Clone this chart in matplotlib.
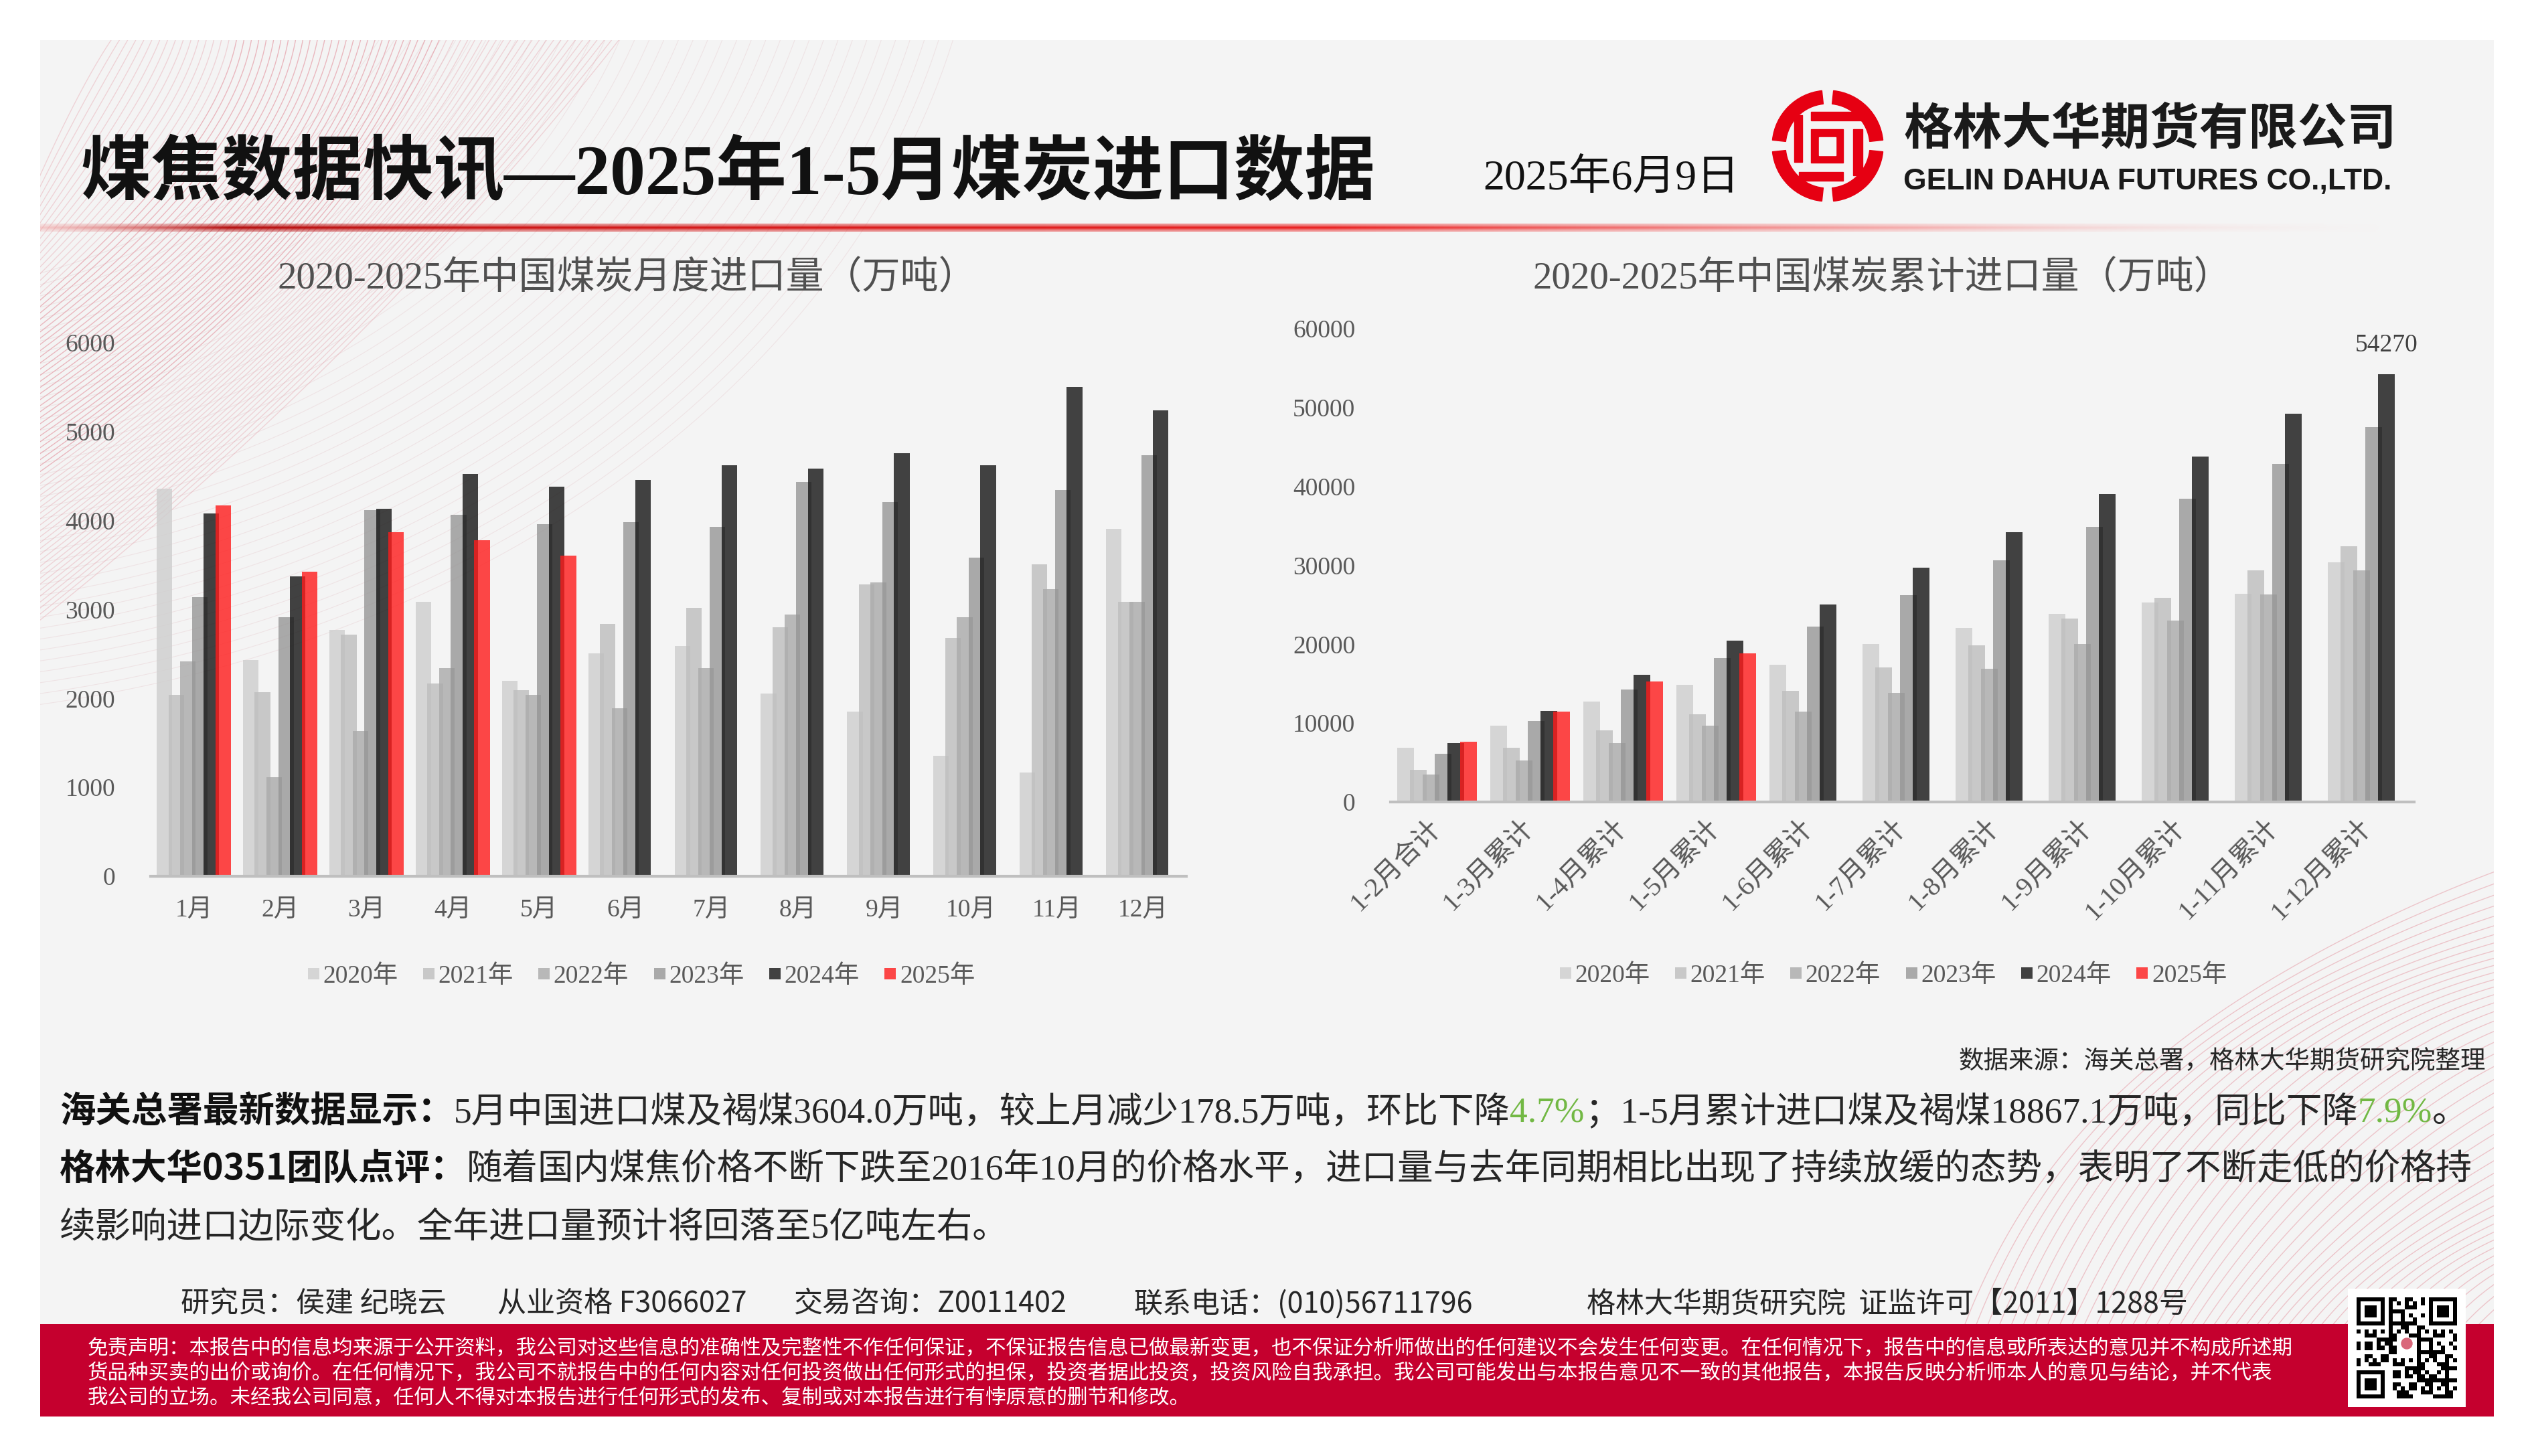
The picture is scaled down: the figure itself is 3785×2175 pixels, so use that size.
import numpy as np
import matplotlib
matplotlib.use("Agg")
import matplotlib.pyplot as plt
from matplotlib.patches import Rectangle, Wedge, Circle

W, H = 3785, 2175

# === DATOS: importación mensual (万吨) ===
months = ["1月", "2月", "3月", "4月", "5月", "6月", "7月", "8月", "9月", "10月", "11月", "12月"]
years = ["2020年", "2021年", "2022年", "2023年", "2024年", "2025年"]
m2020 = [4360, 2434, 2772, 3090, 2196, 2508, 2587, 2058, 1852, 1354, 1169, 3910]
m2021 = [2037, 2074, 2720, 2170, 2095, 2836, 3016, 2799, 3286, 2683, 3508, 3090]
m2022 = [2413, 1116, 1630, 2344, 2042, 1889, 2344, 2942, 3302, 2910, 3228, 3090]
m2023 = [3138, 2910, 4116, 4069, 3958, 3979, 3926, 4434, 4206, 3587, 4344, 4735]
m2024 = [4079, 3376, 4132, 4524, 4381, 4455, 4624, 4582, 4757, 4624, 5503, 5238]
m2025 = [4170, 3423, 3868, 3782, 3604]

# === DATOS: importación acumulada (万吨) ===
periods = ["1-2月合计", "1-3月累计", "1-4月累计", "1-5月累计", "1-6月累计", "1-7月累计",
           "1-8月累计", "1-9月累计", "1-10月累计", "1-11月累计", "1-12月累计"]
c2020 = [6850, 9640, 12740, 14880, 17380, 20060, 22080, 23870, 25300, 26430, 30420]
c2021 = [4100, 6850, 9050, 11130, 14050, 17020, 19820, 23270, 25890, 29400, 32380]
c2022 = [3510, 5240, 7500, 9640, 11490, 13870, 16900, 20060, 23040, 26310, 29400]
c2023 = [6070, 10240, 14290, 18270, 22200, 26190, 30650, 34880, 38450, 42860, 47560]
c2024 = [7500, 11550, 16130, 20480, 25060, 29700, 34230, 39050, 43750, 49230, 54270]
c2025 = [7680, 11490, 15300, 18867]

monthly = [m2020, m2021, m2022, m2023, m2024, m2025]
cumul = [c2020, c2021, c2022, c2023, c2024, c2025]
colors = ["#cecece", "#bebebe", "#aaaaaa", "#969696", "#141414", "#ff1b1b"]

SERIF = ["Liberation Serif", "Noto Sans CJK SC"]
SANS = ["Noto Sans CJK SC", "DejaVu Sans"]
plt.rcParams["font.family"] = SERIF

fig = plt.figure(figsize=(W / 100, H / 100), dpi=100)
fig.patch.set_facecolor("white")

# === FONDO (coordenadas en píxeles) ===
bg = fig.add_axes([0, 0, 1, 1])
bg.set_autoscale_on(False)
bg.set_xlim(0, W)
bg.set_ylim(H, 0)
bg.axis("off")
bg.set_zorder(-1)

panel = Rectangle((60, 60), 3665, 2056, facecolor="#f4f4f4", edgecolor="none", zorder=0)
bg.add_patch(panel)

# líneas decorativas (arriba a la izquierda)
t = np.linspace(0, 1, 300)[:, None]
for i in range(70):
    s = i / 69
    p0 = np.array([180 + 760 * s, 40])
    p1 = np.array([120 + 520 * s + 120 * np.sin(4 * s), 120 + 420 * s])
    p2 = np.array([30, 330 + 620 * s])
    pts = (1 - t) ** 2 * p0 + 2 * (1 - t) * t * p1 + t ** 2 * p2
    ln, = bg.plot(pts[:, 0], pts[:, 1], color="#e07c8a", lw=1.0,
                  alpha=0.5 if 15 < i < 45 else 0.28, zorder=0.5)
    ln.set_clip_path(panel)
for i in range(40):
    r = 700 + i * 16
    th = np.linspace(0, np.pi / 2, 300)
    x = -250 + r * 1.3 * np.cos(th)
    y = -250 + r * np.sin(th)
    ln, = bg.plot(x, y, color="#d9a0a8", lw=0.8, alpha=0.2, zorder=0.5)
    ln.set_clip_path(panel)
# líneas decorativas (abajo a la derecha)
th = np.linspace(0, np.pi / 2, 300)
for i in range(45):
    r = 560 + i * 14
    x = 4150 - r * 1.1 * np.cos(th)
    y = 2400 - r * np.sin(th) + 20 * np.sin(th * 5 + i * 0.2)
    ln, = bg.plot(x, y, color="#e07c8a", lw=1.0, alpha=0.4, zorder=0.5)
    ln.set_clip_path(Rectangle((60, 60), 3665, 1918, transform=bg.transData))

# línea roja degradada bajo el título
xs = np.linspace(0, 1, 800)
stops = np.array([
    [0.00, 0.95, 0.60, 0.60, 0.5],
    [0.08, 0.70, 0.02, 0.02, 1.0],
    [0.20, 0.80, 0.03, 0.03, 1.0],
    [0.55, 0.92, 0.08, 0.08, 1.0],
    [0.80, 0.96, 0.55, 0.55, 0.7],
    [1.00, 0.98, 0.90, 0.90, 0.0],
])
grad = np.zeros((3, len(xs), 4))
for ch in range(4):
    grad[:, :, ch] = np.interp(xs, stops[:, 0], stops[:, ch + 1])
grad[0, :, 3] *= 0.45
grad[2, :, 3] *= 0.45
bg.imshow(grad, extent=(60, 3560, 346, 334), aspect="auto", interpolation="bilinear", zorder=1)

# logo
red = "#e60012"
cx, cy = 2730, 218
for a in (0, 90, 180, 270):
    bg.add_patch(Wedge((cx, cy), 83, a + 6, a + 84, width=20, color=red, zorder=2))
def zr(x0, y0, x1, y1, col=red):
    bg.add_patch(Rectangle((2620 + x0 / 3, 110 + y0 / 3), (x1 - x0) / 3, (y1 - y0) / 3,
                           color=col, zorder=3))
zr(180, 185, 215, 395)
zr(255, 170, 525, 210)
zr(255, 250, 400, 400)
zr(290, 285, 365, 365, "#f4f4f4")
zr(445, 250, 485, 455)
zr(200, 440, 400, 480)

# banda roja inferior
bg.add_patch(Rectangle((60, 1978), 3665, 138, facecolor="#c5002e", edgecolor="none", zorder=1))

# código QR decorativo
bg.add_patch(Rectangle((3507, 1925), 176, 177, facecolor="white", edgecolor="none", zorder=2))
n = 25
ii, jj = np.mgrid[0:n, 0:n]
qr = (((ii * 3 + jj * 5 + (ii * jj) % 7) % 4) < 2).astype(float)
for r0, c0 in [(0, 0), (0, n - 7), (n - 7, 0)]:
    qr[max(r0 - 1, 0):r0 + 8, max(c0 - 1, 0):c0 + 8] = 0
    qr[r0:r0 + 7, c0:c0 + 7] = 1
    qr[r0 + 1:r0 + 6, c0 + 1:c0 + 6] = 0
    qr[r0 + 2:r0 + 5, c0 + 2:c0 + 5] = 1
qr[10:15, 10:15] = 0
bg.imshow(qr, cmap="gray_r", extent=(3520, 3670, 2089, 1938), aspect="auto",
          interpolation="nearest", zorder=3)
bg.add_patch(Circle((3595, 2007), 8, color="#d9677a", zorder=4))

# === TEXTOS DE CABECERA ===
bg.text(120, 262, "煤焦数据快讯—2025年1-5月煤炭进口数据", fontsize=76, fontweight="bold",
        color="#111111", va="center", ha="left", family=SERIF)
bg.text(2215, 268, "2025年6月9日", fontsize=46, color="#111111", va="center", ha="left", family=SERIF)
bg.text(2843, 193, "格林大华期货有限公司", fontsize=53, fontweight="bold", color="#1a1a1a",
        va="center", ha="left", family=SANS)
bg.text(2843, 272, "GELIN DAHUA FUTURES CO.,LTD.", fontsize=32, fontweight="bold", color="#1a1a1a",
        va="center", ha="left", family=["Liberation Sans", "DejaVu Sans"])

bg.text(937, 416, "2020-2025年中国煤炭月度进口量（万吨）", fontsize=41,
        color="#505050", ha="center", va="center", family=SERIF)
bg.text(2812, 416, "2020-2025年中国煤炭累计进口量（万吨）", fontsize=41,
        color="#505050", ha="center", va="center", family=SERIF)

# === GRÁFICAS ===
def px_axes(x0, y0, x1, y1):
    return fig.add_axes([x0 / W, 1 - y1 / H, (x1 - x0) / W, (y1 - y0) / H])

ax1 = px_axes(225, 512, 1772, 1309)
ax2 = px_axes(2077, 491, 3606, 1198)

step, bw = 0.136, 0.18
for ax, data in ((ax1, monthly), (ax2, cumul)):
    ax.set_facecolor("none")
    for k, (vals, col) in enumerate(zip(data, colors)):
        x = np.arange(len(vals)) + (k - 2.5) * step
        ax.bar(x, vals, bw, color=col, alpha=0.8, label=years[k], zorder=2 + k, linewidth=0)
    for s in ("left", "right", "top"):
        ax.spines[s].set_visible(False)
    ax.spines["bottom"].set_color("#bfbfbf")
    ax.spines["bottom"].set_linewidth(3)
    ax.spines["bottom"].set_zorder(10)
    ax.tick_params(axis="both", length=0, labelsize=27, labelcolor="#595959")
    ax.tick_params(axis="y", pad=38)

ax1.set_xlim(-0.5, 11.5)
ax1.set_ylim(0, 6000)
ax1.set_yticks(range(0, 6001, 1000))
ax1.set_xticks(range(12))
ax1.set_xticklabels(months)
ax1.tick_params(axis="x", pad=25)

ax2.set_xlim(-0.5, 10.5)
ax2.set_ylim(0, 60000)
ax2.set_yticks(range(0, 60001, 10000))
ax2.set_xticks(range(11))
ax2.set_xticklabels(periods)
ax2.tick_params(axis="x", pad=24, labelsize=29)
plt.setp(ax2.get_xticklabels(), rotation=45, ha="right", va="center", rotation_mode="anchor")

ax2.annotate(str(c2024[-1]), xy=(10 + 1.5 * step, c2024[-1]), xytext=(0, 31),
             textcoords="offset points", ha="center", va="center", fontsize=27, color="#404040")

for ax, cxp, cyp in ((ax1, 958, 1459), (ax2, 2828, 1458)):
    ax.legend(loc="center", bbox_to_anchor=(cxp / W, 1 - cyp / H), bbox_transform=fig.transFigure,
              ncol=6, frameon=False, fontsize=27, handlelength=0.45, handleheight=0.32,
              handletextpad=0.15, columnspacing=1.0, labelcolor="#595959")

# === TEXTO DE ANÁLISIS ===
bg.text(3713, 1586, "数据来源：海关总署，格林大华期货研究院整理", fontsize=27, color="#262626",
        ha="right", va="center", family=SERIF)

renderer = fig.canvas.get_renderer()
green = "#72b844"
B = dict(family=SANS, fontweight="bold", color="#111111")
N = dict(family=SERIF, color="#262626")
G = dict(family=SERIF, color=green)

def chain(parts, x, y, size=38.5):
    for txt, kw in parts:
        tt = bg.text(x, y, txt, fontsize=size, va="baseline", ha="left", **kw)
        x += tt.get_window_extent(renderer=renderer).width

chain([("海关总署最新数据显示：", B),
       ("5月中国进口煤及褐煤3604.0万吨，较上月减少178.5万吨，环比下降", N),
       ("4.7%", G), ("；1-5月累计进口煤及褐煤18867.1万吨，同比下降", N),
       ("7.9%", G), ("。", N)], 89, 1676)
chain([("格林大华0351团队点评：", B),
       ("随着国内煤焦价格不断下跌至2016年10月的价格水平，进口量与去年同期相比出现了持续放缓的态势，表明了不断走低的价格持", N)],
      89, 1762)
chain([("续影响进口边际变化。全年进口量预计将回落至5亿吨左右。", N)], 89, 1849)

# === PIE DE PÁGINA ===
for fx, txt in ((270, "研究员：侯建 纪晓云"), (743, "从业资格 F3066027"), (1186, "交易咨询：Z0011402"),
                (1693, "联系电话：(010)56711796"), (2370, "格林大华期货研究院  证监许可【2011】1288号")):
    bg.text(fx, 1948, txt, fontsize=31, color="#262626", ha="left", va="center", family=SANS)

disclaimer = [
    "免责声明：本报告中的信息均来源于公开资料，我公司对这些信息的准确性及完整性不作任何保证，不保证报告信息已做最新变更，也不保证分析师做出的任何建议不会发生任何变更。在任何情况下，报告中的信息或所表达的意见并不构成所述期",
    "货品种买卖的出价或询价。在任何情况下，我公司不就报告中的任何内容对任何投资做出任何形式的担保，投资者据此投资，投资风险自我承担。我公司可能发出与本报告意见不一致的其他报告，本报告反映分析师本人的意见与结论，并不代表",
    "我公司的立场。未经我公司同意，任何人不得对本报告进行任何形式的发布、复制或对本报告进行有悖原意的删节和修改。",
]
for k, line in enumerate(disclaimer):
    bg.text(131, 2014 + k * 37, line, fontsize=22, color="white", ha="left", va="center", family=SANS)

fig.savefig("out.png", dpi=100, facecolor="white")
print("✅ out.png guardado")
